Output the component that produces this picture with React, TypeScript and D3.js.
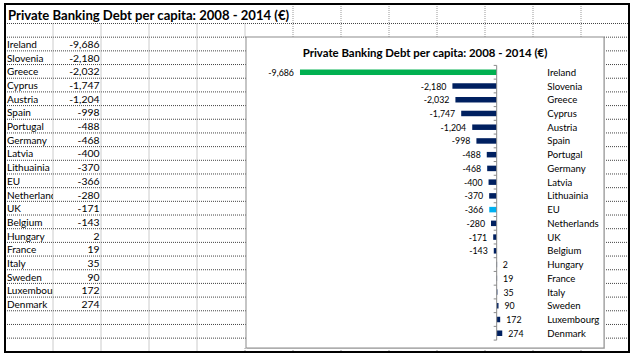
import React from "react";
import * as d3 from "d3";

const countries = ["Ireland", "Slovenia", "Greece", "Cyprus", "Austria", "Spain", "Portugal", "Germany", "Latvia", "Lithuainia", "EU", "Netherlands", "UK", "Belgium", "Hungary", "France", "Italy", "Sweden", "Luxembourg", "Denmark"];
const tableLabels = ["Ireland", "Slovenia", "Greece", "Cyprus", "Austria", "Spain", "Portugal", "Germany", "Latvia", "Lithuainia", "EU", "Netherland", "UK", "Belgium", "Hungary", "France", "Italy", "Sweden", "Luxembour", "Denmark"];
const values = [-9686, -2180, -2032, -1747, -1204, -998, -488, -468, -400, -370, -366, -280, -171, -143, 2, 19, 35, 90, 172, 274];
const xDomain = [-10000, 2000];
const sheetTitle = "Private Banking Debt per capita:  2008 - 2014 (€)";
const chartTitle = "Private Banking Debt per capita: 2008 - 2014 (€)";

const W = 636, H = 359;
const FONT = "Lato, 'Open Sans', sans-serif";

const fmt = d3.formatLocale({ decimal: ".", thousands: ",", grouping: [3], currency: ["", ""], minus: "-" }).format(",");

function colorFor(name: string) {
  if (name === "Ireland") return "#00B050";
  if (name === "EU") return "#00B0F0";
  return "#002060";
}

export default function App() {
  // sheet grid
  const frame = { x0: 5, y0: 4, x1: 629, y1: 352 };
  const colW = 48;
  const rowTop = 23.5, rowH = 13.68;
  const colLines = d3.range(1, 13).map((k) => frame.x0 + colW * k);
  const rowLines = d3.range(0, 24).map((k) => rowTop + rowH * k);
  const chartBox = { x0: 246, y0: 37, x1: 604, y1: 348 };

  // table rows
  const tableY = d3.scaleBand<string>().domain(tableLabels).range([rowTop + rowH, rowTop + rowH * 21]);

  // chart scales
  const x = d3.scaleLinear().domain(xDomain).range([293.6, 537.3]);
  const y = d3.scaleBand<string>().domain(countries).range([65.4, 340.1]).paddingInner(0.6).paddingOuter(0.3);
  const x0 = x(0);
  const step = y.step();
  const bandTop = y(countries[0])! - y.paddingOuter() * step;
  const tickYs = d3.range(0, countries.length + 1).map((k) => bandTop + k * step);

  const inChartH = (yy: number) => yy > chartBox.y0 && yy < chartBox.y1;

  return (
    <svg width={W} height={H} style={{ position: "absolute", left: 0, top: 0, background: "#fff" }} fontFamily={FONT}>
      <rect x={0} y={0} width={W} height={H} fill="#fff" />
      <defs>
        <clipPath id="colA">
          <rect x={frame.x0} y={0} width={colW} height={H} />
        </clipPath>
      </defs>
      {/* horizontal gridlines */}
      {rowLines.map((ry, i) => (
        <g key={"h" + i}>
          {inChartH(ry) ? (
            <>
              <line x1={frame.x0} x2={chartBox.x0} y1={ry} y2={ry} stroke="#444" strokeDasharray="1 1" />
              <line x1={chartBox.x1} x2={frame.x1} y1={ry} y2={ry} stroke="#444" strokeDasharray="1 1" />
            </>
          ) : (
            <line x1={frame.x0} x2={frame.x1} y1={ry} y2={ry} stroke="#444" strokeDasharray="1 1" />
          )}
        </g>
      ))}
      {/* vertical gridlines */}
      {colLines.map((cx, i) => {
        const segs: [number, number][] = [];
        const topY = cx >= 290 ? frame.y0 : rowTop;
        if (cx > chartBox.x0 - 2 && cx < chartBox.x1) {
          segs.push([topY, chartBox.y0]);
          segs.push([chartBox.y1, frame.y1]);
        } else {
          segs.push([topY, frame.y1]);
        }
        return segs.map((s, j) => (
          <line key={"v" + i + "_" + j} x1={cx} x2={cx} y1={s[0]} y2={s[1]} stroke="#999" strokeDasharray="1 1" />
        ));
      })}
      {/* sheet title */}
      <text x={8} y={14.5} dominantBaseline="central" fontWeight="bold" fontSize={13.1} fill="#000">
        {sheetTitle}
      </text>
      {/* table */}
      {tableLabels.map((lab, i) => {
        const cy = tableY(lab)! + tableY.bandwidth() / 2;
        return (
          <g key={"t" + i}>
            <text x={7} y={cy} dominantBaseline="central" fontSize={10} fill="#000" clipPath="url(#colA)">
              {lab}
            </text>
            <text x={99.5} y={cy} dominantBaseline="central" textAnchor="end" fontSize={10.4} fill="#000">
              {fmt(values[i])}
            </text>
          </g>
        );
      })}
      {/* chart */}
      <rect x={chartBox.x0 + 1} y={chartBox.y0 + 1} width={chartBox.x1 - chartBox.x0} height={chartBox.y1 - chartBox.y0} fill="#d0d0d0" />
      <rect x={chartBox.x0} y={chartBox.y0} width={chartBox.x1 - chartBox.x0} height={chartBox.y1 - chartBox.y0} fill="#fff" stroke="#8c8c8c" strokeWidth={1} />
      <text x={(chartBox.x0 + chartBox.x1) / 2} y={52.7} dominantBaseline="central" textAnchor="middle" fontWeight="bold" fontSize={11.4} fill="#000">
        {chartTitle}
      </text>
      {countries.map((c, i) => {
        const v = values[i];
        const by = y(c)!;
        const bx = Math.min(x(v), x0);
        const bw = Math.abs(x(v) - x0);
        return (
          <rect key={"b" + i} x={bx} y={by} width={Math.max(bw, 0.4)} height={y.bandwidth()} fill={colorFor(c)} />
        );
      })}
      {/* axis */}
      <line x1={x0} x2={x0} y1={tickYs[0]} y2={tickYs[tickYs.length - 1]} stroke="#8a8a8a" strokeWidth={1} />
      {tickYs.map((ty, i) => (
        <line key={"tk" + i} x1={x0 - 3} x2={x0} y1={ty} y2={ty} stroke="#8a8a8a" strokeWidth={1} />
      ))}
      {/* value labels */}
      {countries.map((c, i) => {
        const v = values[i];
        const cy = y(c)! + y.bandwidth() / 2;
        const px = v < 0 ? x(v) - 6 : Math.max(x(v), x0) + 6;
        return (
          <text key={"vl" + i} x={px} y={cy} dominantBaseline="central" textAnchor={v < 0 ? "end" : "start"} fontSize={8.8} fill="#000">
            {fmt(v)}
          </text>
        );
      })}
      {/* category labels */}
      {countries.map((c, i) => (
        <text key={"cl" + i} x={547.3} y={y(c)! + y.bandwidth() / 2} dominantBaseline="central" fontSize={9.6} fill="#000">
          {c}
        </text>
      ))}
      {/* outer frame */}
      <rect x={frame.x0} y={frame.y0} width={frame.x1 - frame.x0} height={frame.y1 - frame.y0} fill="none" stroke="#000" strokeWidth={2} />
    </svg>
  );
}
